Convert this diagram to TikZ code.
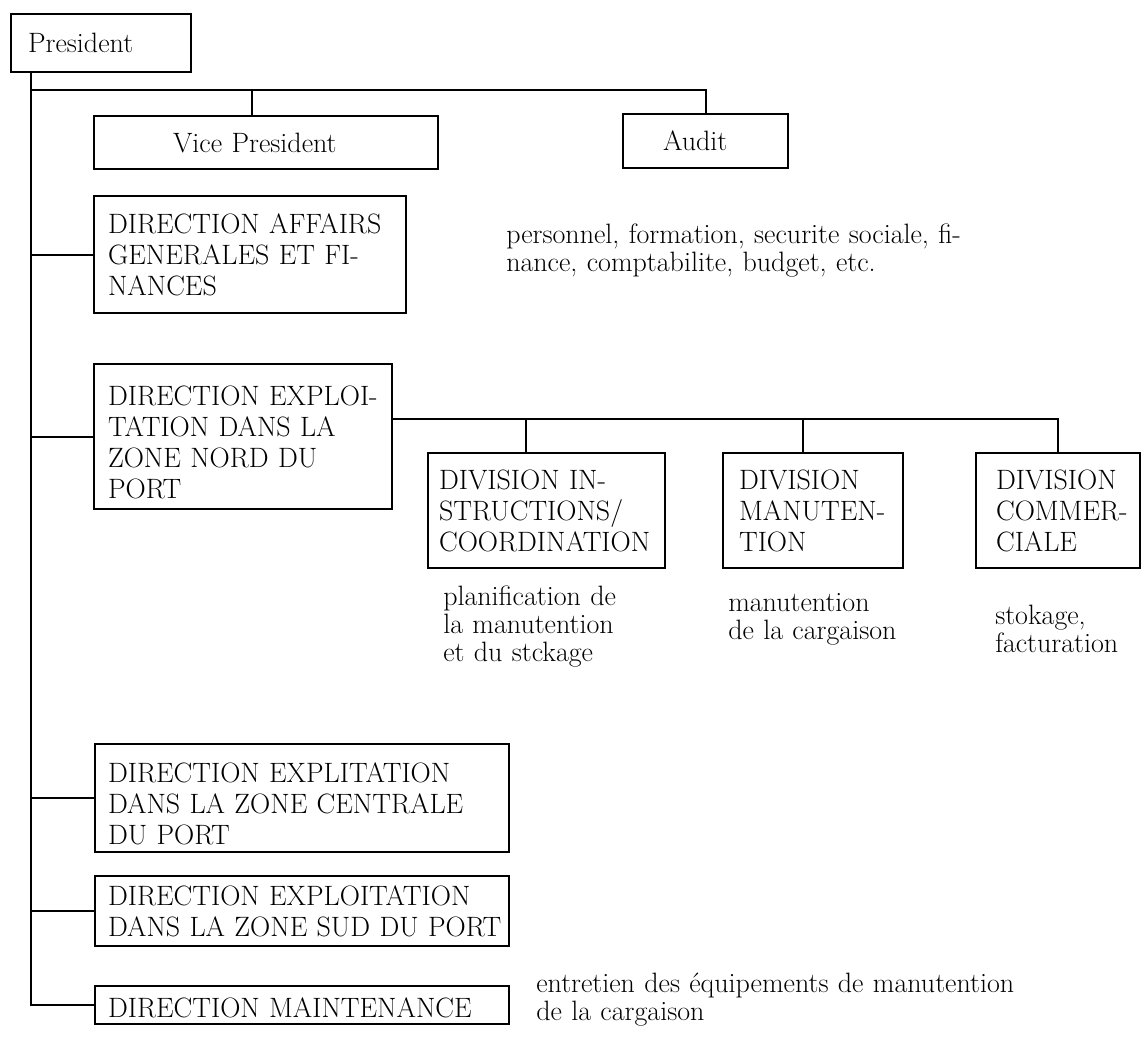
\documentclass[tikz,border=0pt]{standalone}
\usepackage{fontspec}
\begin{document}
\begin{tikzpicture}[
  x=0.75pt, y=-0.75pt,
  orgfont/.style={font=\fontsize{21pt}{23.25pt}\selectfont},
  notefont/.style={font=\fontsize{21pt}{21pt}\selectfont},
  % box given by its corners (x1,y1) (x2,y2) and the left indent of its text
  orgbox/.style n args={5}{draw, line width=1.6pt, orgfont, align=left,
    inner sep=0pt, anchor=north west, at={(#1,#2)},
    minimum width={(#3-#1)*0.75pt}, minimum height={(#4-#2)*0.75pt},
    text width={(#3-#1)*0.75pt},
    execute at begin node={\leftskip=#5\dimexpr 0.75pt\relax}},
  % lowers the text block inside its box
  lowered/.style={text height={14.6pt+#1*1.5pt}},
  note/.style={notefont, align=left, inner sep=0pt, anchor=base west,
    text width=450pt},
  link/.style={line width=1.6pt},
  spine/.style={line width=2.1pt}
]
\useasboundingbox (0,0) rectangle (1142,1053);

% top level
\node[orgbox={10}{13}{190}{71}{17}] (pres) {President};
\node[orgbox={93}{115}{437}{168}{79}] (vp) {Vice President};
\node[orgbox={622}{113}{787}{167}{40}] (audit) {Audit};

% directions
\node[orgbox={93}{195}{405}{312}{14}] (dagf)
  {DIRECTION AFFAIRS\\GENERALES ET FI-\\NANCES};
\node[orgbox={93}{363}{391}{508}{14}, lowered=6] (den)
  {DIRECTION EXPLOI-\\TATION DANS LA\\ZONE NORD DU\\PORT};
\node[orgbox={94}{743}{508}{851}{13}, lowered=6] (dec)
  {DIRECTION EXPLITATION\\DANS LA ZONE CENTRALE\\DU PORT};
\node[orgbox={94}{875}{508}{945}{13}] (des)
  {DIRECTION EXPLOITATION\\DANS LA ZONE SUD DU PORT};
\node[orgbox={94}{985}{508}{1023}{13}, lowered=3] (dmt) {DIRECTION MAINTENANCE};

% divisions of the northern zone
\node[orgbox={427}{452}{664}{567}{11}] (dic)
  {DIVISION IN-\\STRUCTIONS/\\COORDINATION};
\node[orgbox={722}{452}{902}{567}{16}] (dm)
  {DIVISION\\MANUTEN-\\TION};
\node[orgbox={975}{452}{1139}{567}{20}] (dc)
  {DIVISION\\COMMER-\\CIALE};

% descriptions of the tasks
\node[note] (t1) at (506,243)
  {personnel, formation, securite sociale, fi-\\nance, comptabilite, budget, etc.};
\node[note] (t2) at (443,605) {planification de\\la manutention\\et du stckage};
\node[note] (t3) at (728,611) {manutention\\de la cargaison};
\node[note] (t4) at (995,624) {stokage,\\facturation};
\node[note] (t5) at (536,992)
  {entretien des équipements de manutention\\de la cargaison};

% connectors
\coordinate (tk) at (31,90);
\coordinate (vpj) at (252,90);
\coordinate (divbar) at (526,419);
\coordinate (dmj) at (803,419);

\draw[spine] (pres.south -| tk) -- (tk |- dmt.west) -- (dmt.west);
\draw[link] (tk) -- (tk -| audit.north) -- (audit.north);
\draw[link] (vpj) -- (vpj |- vp.north);
\draw[link] (dagf.west -| tk) -- (dagf.west);
\draw[link] (den.west -| tk) -- (den.west);
\draw[link] (dec.west -| tk) -- (dec.west);
\draw[link] (des.west -| tk) -- (des.west);

\draw[link] (den.east |- divbar) -- (divbar -| dc.north) -- (dc.north);
\draw[link] (divbar) -- (divbar |- dic.north);
\draw[link] (dmj) -- (dmj |- dm.north);
\end{tikzpicture}
\end{document}
